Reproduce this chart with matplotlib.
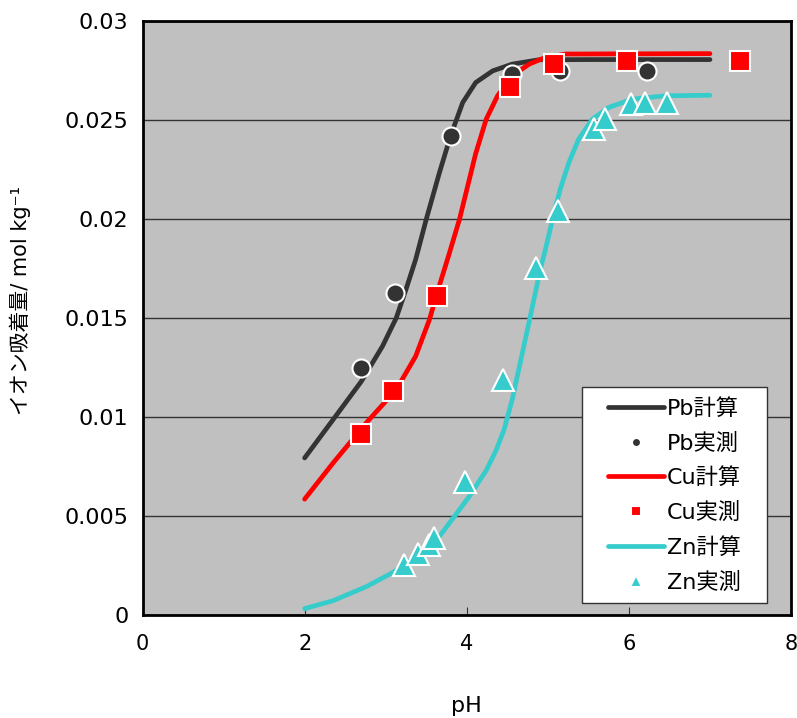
import matplotlib
matplotlib.use("Agg")
import matplotlib.pyplot as plt
from matplotlib.patches import Rectangle

plt.rcParams['font.family'] = ['DejaVu Sans', 'Noto Sans CJK JP']

# calculated curves (pH, mol/kg)
pb_calc_x = [2.0, 2.35, 2.70, 2.96, 3.13, 3.25, 3.37, 3.50, 3.66, 3.75, 3.83, 3.95, 4.11, 4.32,
             4.56, 4.89, 5.5, 7.0]
pb_calc_y = [0.00793, 0.00986, 0.0118, 0.01357, 0.0150, 0.01644, 0.01796, 0.01998, 0.0223, 0.02352,
             0.02453, 0.02588, 0.02689, 0.02748, 0.02782, 0.02804, 0.02805, 0.02805]

cu_calc_x = [2.0, 2.35, 2.76, 3.13, 3.37, 3.54, 3.66, 3.78, 3.91, 4.11, 4.24, 4.38, 4.56, 4.77,
             4.97, 5.22, 7.0]
cu_calc_y = [0.00585, 0.00767, 0.0097, 0.01138, 0.01307, 0.01492, 0.01661, 0.0182, 0.01998, 0.0233,
             0.02504, 0.02622, 0.02723, 0.02782, 0.02816, 0.02833, 0.02835]

zn_calc_x = [2.0, 2.35, 2.76, 3.09, 3.37, 3.66, 3.87, 4.03, 4.11, 4.24, 4.36, 4.46, 4.56, 4.65,
             4.79, 4.91, 4.97, 5.10, 5.16, 5.26, 5.38, 5.55, 5.75, 6.04, 6.45, 7.0]
zn_calc_y = [0.00032, 0.00072, 0.00143, 0.00215, 0.00295, 0.00396, 0.0051, 0.00598, 0.00649,
             0.0073, 0.0083, 0.00936, 0.01087, 0.01256, 0.0152, 0.0175, 0.01846, 0.0207, 0.0216,
             0.02285, 0.02403, 0.02504, 0.02563, 0.02605, 0.02622, 0.02625]

# measured points
pb_meas_x = [2.70, 3.12, 3.80, 4.56, 5.15, 6.22]
pb_meas_y = [0.01246, 0.01624, 0.0242, 0.0273, 0.02748, 0.02748]

cu_meas_x = [2.69, 3.09, 3.63, 4.53, 5.08, 5.98, 7.37]
cu_meas_y = [0.00916, 0.01133, 0.0161, 0.02667, 0.02785, 0.02799, 0.02799]

zn_meas_x = [3.22, 3.40, 3.53, 3.59, 3.98, 4.45, 4.85, 5.12, 5.57, 5.71, 6.03, 6.20, 6.47]
zn_meas_y = [0.00253, 0.00309, 0.00354, 0.00388, 0.00674, 0.01189, 0.01751, 0.0204, 0.02453,
             0.02507, 0.0258, 0.02585, 0.02588]

yticks = [0, 0.005, 0.01, 0.015, 0.02, 0.025, 0.03]
ytick_labels = ['0', '0.005', '0.01', '0.015', '0.02', '0.025', '0.03']
xticks = [0, 2, 4, 6, 8]

c_pb = '#333333'
c_cu = '#ff0000'
c_zn = '#36cccc'

fig = plt.figure(figsize=(7.97, 7.18), dpi=100)
ax = fig.add_axes([0.1788, 0.1435, 0.8137, 0.8273])
ax.set_facecolor('#c0c0c0')

ax.plot(pb_calc_x, pb_calc_y, color=c_pb, lw=3.4, solid_capstyle='round', label='Pb計算', zorder=3)
ax.plot(pb_meas_x, pb_meas_y, 'o', color=c_pb, ms=13, mec='white', mew=1.5, label='Pb実測', zorder=4)
ax.plot(cu_calc_x, cu_calc_y, color=c_cu, lw=3.4, solid_capstyle='round', label='Cu計算', zorder=3)
ax.plot(cu_meas_x, cu_meas_y, 's', color=c_cu, ms=15, mec='white', mew=1.5, label='Cu実測', zorder=4)
ax.plot(zn_calc_x, zn_calc_y, color=c_zn, lw=3.4, solid_capstyle='round', label='Zn計算', zorder=3)
ax.plot(zn_meas_x, zn_meas_y, '^', color=c_zn, ms=16, mec='white', mew=1.5, label='Zn実測', zorder=4)

ax.set_xlim(0, 8)
ax.set_ylim(0, 0.03)
ax.set_yticks(yticks)
ax.set_yticklabels(ytick_labels, fontsize=16)
ax.set_xticks(xticks)
ax.set_xticklabels([str(t) for t in xticks], fontsize=15)
ax.tick_params(axis='x', direction='in', length=6, pad=14, color='#333333')
ax.tick_params(axis='y', length=0, pad=10)
ax.yaxis.grid(True, color='#333333', lw=1)
ax.set_axisbelow(True)
for s in ax.spines.values():
    s.set_linewidth(2)
    s.set_color('black')

ax.set_xlabel('pH', fontsize=16, labelpad=30)
ax.set_ylabel('イオン吸着量/ mol kg⁻¹', fontsize=15)
ax.yaxis.set_label_coords(-0.172, 0.53)

# legend box
x0, x1, y0, y1 = 0.678, 0.963, 0.0202, 0.383
ax.add_patch(Rectangle((x0, y0), x1 - x0, y1 - y0, transform=ax.transAxes,
                       facecolor='white', edgecolor='#333333', lw=1, zorder=5))
leg = ax.legend(loc='center', bbox_to_anchor=((x0 + x1) / 2, (y0 + y1) / 2),
                frameon=False, handlelength=2.5, handletextpad=0.15,
                labelspacing=0.62, markerscale=0.5, borderpad=0,
                prop={'family': ['DejaVu Sans', 'Noto Sans CJK JP'], 'size': 16})
leg.set_zorder(6)

fig.savefig('out.png', dpi=100)
